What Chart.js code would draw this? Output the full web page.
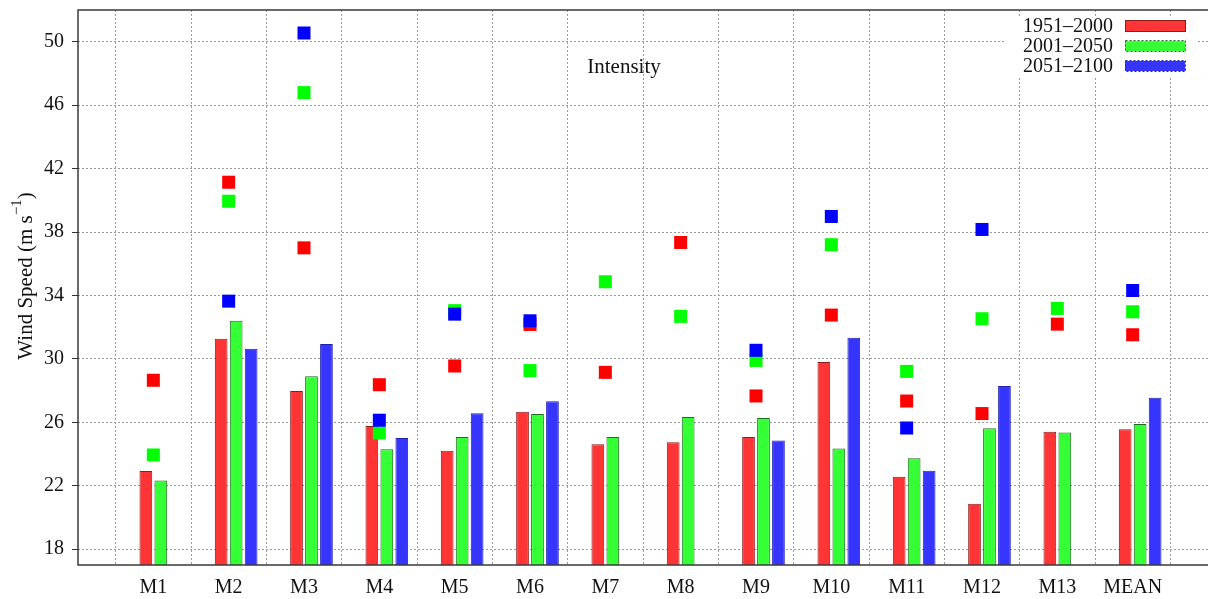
<!DOCTYPE html>
<html>
<head>
<meta charset="utf-8">
<title>Intensity</title>
<script src="https://cdn.jsdelivr.net/npm/chart.js@4.4.1/dist/chart.umd.min.js"></script>
<style>
    html, body { margin: 0; padding: 0; background: #fff; }
    #wrap { width: 1208px; height: 599px; }
</style>
</head>
<body>
<div id="wrap"><canvas id="windChart" width="1208" height="599"></canvas></div>
<script>
// モデル名
const models = ['M1', 'M2', 'M3', 'M4', 'M5', 'M6', 'M7', 'M8', 'M9', 'M10', 'M11', 'M12', 'M13', 'MEAN'];
const periods = ['1951–2000', '2001–2050', '2051–2100'];

// 棒グラフ (m/s)
const bars1951 = [22.93, 31.27, 27.97, 25.77, 24.21, 26.67, 24.61, 24.74, 25.07, 29.80, 22.56, 20.86, 25.41, 25.56];
const bars2001 = [22.33, 32.40, 28.90, 24.30, 25.07, 26.52, 25.07, 26.33, 26.27, 24.34, 23.73, 25.62, 25.35, 25.89];
const bars2051 = [null, 30.64, 30.93, 25.01, 26.57, 27.32, null, null, 24.85, 31.33, 22.95, 28.29, null, 27.55];

// 四角マーカー (m/s)
const marks1951 = [28.65, 41.14, 37.00, 28.37, 29.55, 32.17, 29.15, 37.34, 27.66, 32.76, 27.34, 26.55, 32.19, 31.52];
const marks2001 = [23.94, 39.94, 46.79, 25.33, 33.04, 29.26, 34.86, 32.68, 29.90, 37.20, 29.21, 32.53, 33.18, 32.97];
const marks2051 = [null, 33.64, 50.55, 26.13, 32.82, 32.40, null, null, 30.54, 38.98, 25.64, 38.16, null, 34.31];

// Y軸の目盛り
const yTicks = [18, 22, 26, 30, 34, 38, 42, 46, 50];
const yMin = 17;
const yMax = 52;

const SERIF = "'Liberation Serif', 'DejaVu Serif', serif";

// 両端に空のカテゴリを置いて、M1 と MEAN の外側に1区間ずつ余白を作る
const labels = ['', ...models, ''];
const pad = arr => [null, ...arr, null];

const barColors = ['#ff3535', '#35ff35', '#3535ff'];
const barBorders = ['#8a1c1c', '#1f6a1f', '#2222b0'];
const markColors = ['#ff0000', '#00ff00', '#0000ff'];

// 枠線 (左・上・下)
const framePlugin = {
    id: 'frame',
    afterDatasetsDraw(chart) {
        const { ctx, chartArea: a } = chart;
        ctx.save();
        ctx.strokeStyle = '#3a3a3a';
        ctx.lineWidth = 1.5;
        ctx.beginPath();
        ctx.moveTo(a.right + 2, a.top);
        ctx.lineTo(a.left, a.top);
        ctx.lineTo(a.left, a.bottom);
        ctx.lineTo(a.right + 2, a.bottom);
        ctx.stroke();
        ctx.restore();
    }
};

// 凡例・見出し・Y軸タイトル
const textPlugin = {
    id: 'texts',
    afterDraw(chart) {
        const { ctx, chartArea: a } = chart;
        ctx.save();

        // 見出し
        ctx.fillStyle = '#111';
        ctx.font = '21px ' + SERIF;
        ctx.textAlign = 'center';
        ctx.textBaseline = 'middle';
        ctx.fillText('Intensity', 624, 67);

        // 凡例 (背景は白)
        ctx.fillStyle = '#fff';
        ctx.fillRect(1006, a.top + 7, 190, 59);
        ctx.font = '20px ' + SERIF;
        ctx.textAlign = 'right';
        periods.forEach((p, i) => {
            const cy = a.top + 16 + i * 20;
            ctx.fillStyle = '#111';
            ctx.fillText(p, 1113, cy + 1);
            ctx.fillStyle = barColors[i];
            ctx.fillRect(1125, cy - 5, 60, 10);
            ctx.strokeStyle = barBorders[i];
            ctx.lineWidth = 1;
            if (i > 0) ctx.setLineDash([2, 2]);
            ctx.strokeRect(1125.5, cy - 5.5, 60, 11);
            ctx.setLineDash([]);
        });

        // Y軸タイトル (上付き -1)
        ctx.translate(26, 276);
        ctx.rotate(-Math.PI / 2);
        ctx.fillStyle = '#111';
        ctx.textAlign = 'left';
        ctx.textBaseline = 'middle';
        const big = '21px ' + SERIF;
        const small = '15px ' + SERIF;
        const p1 = 'Wind Speed (m s';
        const p2 = '\u22121';
        const p3 = ')';
        ctx.font = big;
        const w1 = ctx.measureText(p1).width;
        const w3 = ctx.measureText(p3).width;
        ctx.font = small;
        const w2 = ctx.measureText(p2).width;
        let x = -(w1 + w2 + w3) / 2;
        ctx.font = big;
        ctx.fillText(p1, x, 0);
        x += w1;
        ctx.font = small;
        ctx.fillText(p2, x, -9);
        x += w2;
        ctx.font = big;
        ctx.fillText(p3, x, 0);

        ctx.restore();
    }
};

const barSets = [bars1951, bars2001, bars2051].map((d, i) => ({
    type: 'bar',
    label: periods[i],
    data: pad(d),
    backgroundColor: barColors[i],
    borderColor: barBorders[i],
    borderWidth: 1,
    categoryPercentage: 0.795,
    barPercentage: 0.85,
    order: 10
}));

// 先頭にダミーの棒系列を入れて、赤の棒が目盛りの左側に来るようにする
const spacer = {
    type: 'bar',
    label: '',
    data: labels.map(() => null),
    categoryPercentage: 0.795,
    barPercentage: 0.85,
    order: 10
};

const markSets = [marks1951, marks2001, marks2051].map((d, i) => ({
    type: 'line',
    label: periods[i] + ' marks',
    data: pad(d),
    showLine: false,
    pointStyle: 'rect',
    // 値が無い点は大きさ0 (端の余白が自動で増えないように)
    pointRadius: c => (c.raw == null ? 0 : 9.2),
    pointBackgroundColor: markColors[i],
    pointBorderWidth: 0,
    borderWidth: 0,
    borderColor: markColors[i],
    order: 3 - i
}));

new Chart(document.getElementById('windChart'), {
    data: {
        labels: labels,
        datasets: [spacer, ...barSets, ...markSets]
    },
    options: {
        responsive: false,
        animation: false,
        devicePixelRatio: 1,
        layout: { autoPadding: false, padding: { top: 10, right: 0, left: 0, bottom: 0 } },
        plugins: {
            legend: { display: false },
            tooltip: { enabled: false },
            title: { display: false }
        },
        scales: {
            x: {
                type: 'category',
                offset: false,
                grid: {
                    color: '#9a9a9a',
                    lineWidth: 1,
                    drawTicks: false
                },
                border: { display: false, dash: [2, 2] },
                ticks: {
                    color: '#111',
                    font: { family: SERIF, size: 20 },
                    padding: 11,
                    maxRotation: 0,
                    autoSkip: false
                },
                afterFit: s => {
                    s.height = 34;
                    s.paddingLeft = 0;
                    s.paddingRight = 0;
                }
            },
            y: {
                min: yMin,
                max: yMax,
                grid: {
                    color: '#9a9a9a',
                    lineWidth: 1,
                    tickLength: 6,
                    tickColor: '#333'
                },
                border: { display: false, dash: [2, 2] },
                ticks: {
                    color: '#111',
                    font: { family: SERIF, size: 20 },
                    padding: 8
                },
                afterBuildTicks: s => { s.ticks = yTicks.map(v => ({ value: v })); },
                afterFit: s => {
                    s.width = 78;
                    s.paddingTop = 0;
                    s.paddingBottom = 0;
                }
            }
        }
    },
    plugins: [framePlugin, textPlugin]
});
</script>
</body>
</html>
